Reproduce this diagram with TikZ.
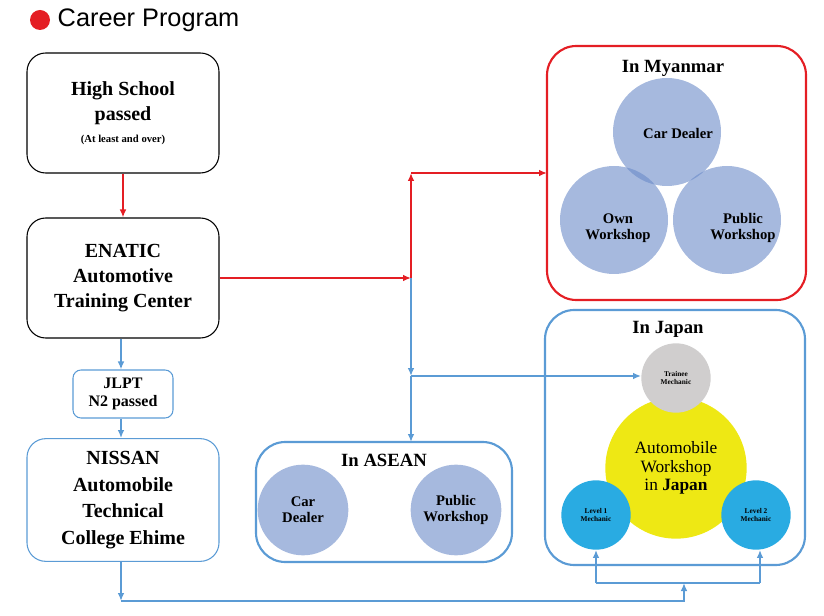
\documentclass[tikz,border=0pt]{standalone}
\usepackage{fontspec}
\setmainfont{Liberation Serif}
\newfontfamily\titlefont{Liberation Sans}
\usetikzlibrary{arrows.meta}
\definecolor{redline}{RGB}{228,30,36}
\definecolor{blueline}{RGB}{91,155,213}
\definecolor{circblue}{RGB}{106,138,200}
\definecolor{traineegray}{RGB}{208,206,206}
\definecolor{wsyellow}{RGB}{238,232,20}
\definecolor{levelcyan}{RGB}{41,171,226}
\tikzset{
  stage/.style={draw, rounded corners=14pt, line width=0.8pt, align=center, font=\bfseries\fontsize{15}{19}\selectfont, inner sep=2pt},
  region/.style={draw, rounded corners=22pt, line width=1.6pt},
  place/.style={circle, fill=circblue!60, align=center, font=\bfseries\fontsize{11}{12}\selectfont},
  label/.style={align=center, font=\bfseries\fontsize{11}{12}\selectfont},
  spot/.style={circle, align=center, font=\bfseries\fontsize{5.5}{6.5}\selectfont, inner sep=0pt},
  heading/.style={font=\bfseries\fontsize{14}{16}\selectfont},
  redarrow/.style={draw=redline, line width=1.4pt, -{Latex[length=6pt,width=5pt]}},
  bluearrow/.style={draw=blueline, line width=1.4pt, -{Latex[length=6pt,width=5pt]}},
}
\begin{document}
\begin{tikzpicture}[x=0.75pt,y=0.75pt,yscale=-1,xscale=1]
\useasboundingbox (0,0) rectangle (824,616);

% Title
\fill[redline] (40,20) circle (10);
\node (title) [anchor=west, font=\titlefont\fontsize{19}{21}\selectfont] at (53,20) {Career Program};

% Left column
\node (school) [stage, minimum width=144pt, minimum height=90pt] at (123,113)
  {High School\\passed\\[-3pt] {\fontsize{8}{9}\selectfont (At least and over)}};
\node (enatic) [stage, minimum width=144pt, minimum height=90pt] at (123,278)
  {ENATIC\\Automotive\\Training Center};
\node (jlpt) [stage, draw=blueline, rounded corners=6pt, minimum width=75pt, minimum height=36pt, font=\bfseries\fontsize{12}{14}\selectfont] at (123,394)
  {JLPT\\N2 passed};
\node (nissan) [stage, draw=blueline, minimum width=144pt, minimum height=92pt, font=\bfseries\fontsize{15}{20}\selectfont] at (123,500)
  {NISSAN\\Automobile\\Technical\\College Ehime};

% In Myanmar
\draw[region, draw=redline] (547,46) rectangle (806,300);
\node (myanmar) [heading] at (673,68) {In Myanmar};
\begin{scope}[fill opacity=0.6]
  \fill[circblue] (667,132) circle (54);
  \fill[circblue] (614,220) circle (54);
  \fill[circblue] (727,220) circle (54);
\end{scope}
\node (mdealer) [label] at (678,133) {Car Dealer};
\node (mown) [label] at (618,228) {Own\\Workshop};
\node (mpublic) [label] at (743,228) {Public\\Workshop};

% In ASEAN
\draw[region, draw=blueline] (256,442) rectangle (512,562);
\node (asean) [heading] at (384,460) {In ASEAN};
\node (adealer) [place, minimum size=68pt] at (303,510) {Car\\Dealer};
\node (apublic) [place, minimum size=68pt] at (456,510) {Public\\Workshop};

% In Japan
\draw[region, draw=blueline] (545,310) rectangle (805,565);
\node (japan) [heading] at (668,329) {In Japan};
\node (workshop) [circle, fill=wsyellow, minimum size=106pt, align=center, font=\fontsize{13}{14}\selectfont] at (676,468)
  {Automobile\\Workshop\\in \textbf{Japan}};
\node (trainee) [spot, fill=traineegray, minimum size=52pt] at (676,378) {Trainee\\Mechanic};
\node (level1) [spot, fill=levelcyan, minimum size=52pt] at (596,515) {Level 1\\Mechanic};
\node (level2) [spot, fill=levelcyan, minimum size=52pt] at (756,515) {Level 2\\Mechanic};

% Connectors
\coordinate (split) at (411,278);
\coordinate (up) at (411,173);
\coordinate (fork) at (411,376);
\coordinate (low) at (121,601);
\coordinate (rise) at (684,601);
\coordinate (bar) at (684,583);
\draw[redarrow] (school) -- (enatic);
\draw[redarrow] (enatic.east |- split) -- (split);
\draw[redarrow] (split) -- (up);
\draw[redarrow] (up) -- (up -| 547,0);
\draw[bluearrow] (split) -- (fork);
\draw[bluearrow] (fork) -- (fork |- 0,442);
\draw[bluearrow] (fork) -- (fork -| trainee.west);
\draw[bluearrow] (enatic.south -| 121,0) -- (jlpt.north -| 121,0);
\draw[bluearrow] (jlpt.south -| 121,0) -- (nissan.north -| 121,0);
\draw[bluearrow] (nissan.south -| 121,0) -- (low);
\draw[bluearrow] (low) -- (rise) -- (bar);
\draw[bluearrow] (596,583) -- (level1);
\draw[bluearrow] (760,583) -- (level2.south -| 760,0);
\draw[draw=blueline, line width=1.4pt] (596,583) -- (760,583);
\end{tikzpicture}
\end{document}
